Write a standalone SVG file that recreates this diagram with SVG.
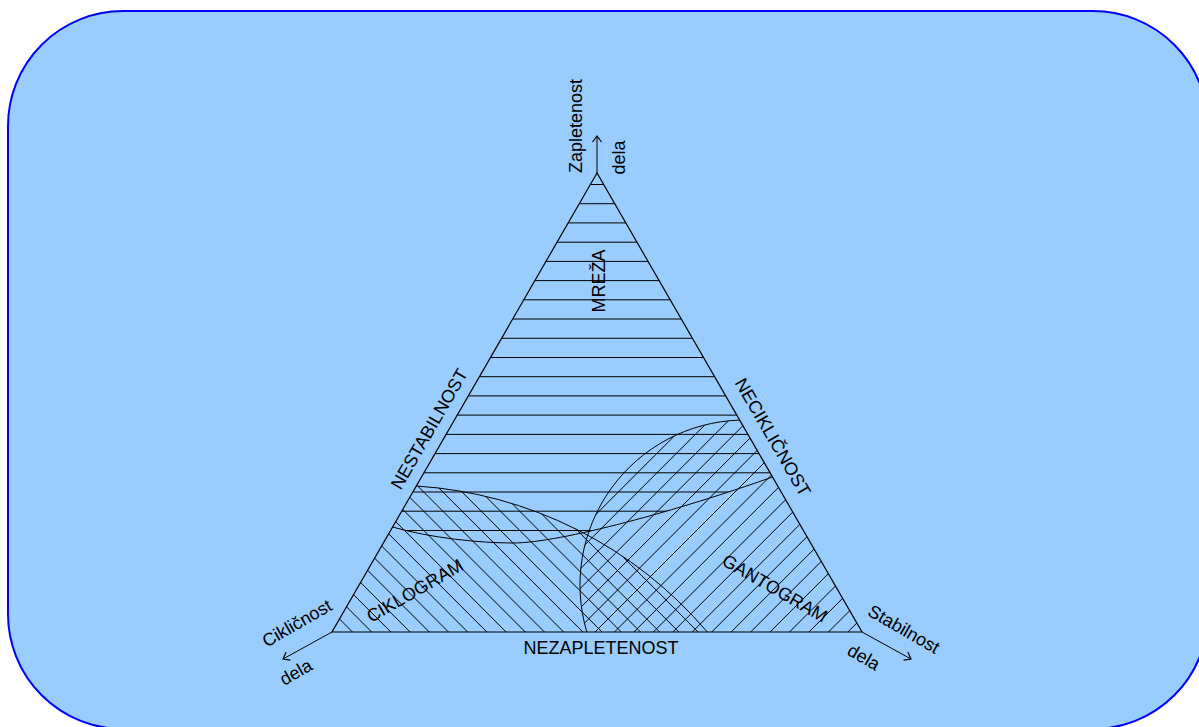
<svg xmlns="http://www.w3.org/2000/svg" width="1199" height="727" viewBox="0 0 1199 727">
<style>
.t{font-family:"Liberation Sans",Arial,sans-serif;font-size:18px;fill:#000}
.m{text-anchor:middle}
.ln{fill:none;stroke:#000;stroke-width:1}
.h{fill:none;stroke:#000;stroke-width:1}
</style>
<defs>
<marker id="ah" markerWidth="8" markerHeight="12" viewBox="-7 -6 8 12" refX="0" refY="0" orient="auto" markerUnits="userSpaceOnUse">
<path d="M-6,-4.5 L0,0 L-6,4.5" fill="none" stroke="#000" stroke-width="1.2"/>
</marker>
<clipPath id="cM"><path d="M597,173 L392.6,527 C430,538 480,543 513,543 C560,543 680,510 772.5,477 Z"/></clipPath>
<clipPath id="cC"><path d="M416.3,486 A417,417 0 0 1 707.3,632 L332,632 Z"/></clipPath>
<clipPath id="cG"><path d="M739.6,420.1 A165,165 0 0 0 586.8,632 L862,632 Z"/></clipPath>
</defs>
<rect id="background" x="8" y="11" width="1200" height="718" rx="115" ry="115" fill="#99CCFF" stroke="#0000FF" stroke-width="2"/>
<g id="mreza-hatch" clip-path="url(#cM)">
<path class="h" d="M300,184.5H900M300,203.7H900M300,222.9H900M300,242.2H900M300,261.4H900M300,280.6H900M300,299.8H900M300,319H900M300,338.3H900M300,357.5H900M300,376.7H900M300,395.9H900M300,415.1H900M300,434.4H900M300,453.6H900M300,472.8H900M300,492H900M300,511.2H900M300,530.5H900"/>
</g>
<g id="ciklogram-hatch" clip-path="url(#cC)">
<path class="h" d="M333.3,632l-260,-260M352.5,632l-260,-260M371.7,632l-260,-260M390.9,632l-260,-260M410.1,632l-260,-260M429.3,632l-260,-260M448.5,632l-260,-260M467.7,632l-260,-260M486.9,632l-260,-260M506.1,632l-260,-260M525.3,632l-260,-260M544.5,632l-260,-260M563.7,632l-260,-260M582.9,632l-260,-260M602.1,632l-260,-260M621.3,632l-260,-260M640.5,632l-260,-260M659.7,632l-260,-260M678.9,632l-260,-260M698.1,632l-260,-260M717.3,632l-260,-260"/>
</g>
<g id="gantogram-hatch" clip-path="url(#cG)">
<path class="h" d="M361.6,632l260,-260M381.05,632l260,-260M400.5,632l260,-260M419.95,632l260,-260M439.4,632l260,-260M458.85,632l260,-260M478.3,632l260,-260M497.75,632l260,-260M517.2,632l260,-260M536.65,632l260,-260M556.1,632l260,-260M575.55,632l260,-260M595,632l260,-260M614.45,632l260,-260M633.9,632l260,-260M653.35,632l260,-260M672.8,632l260,-260M692.25,632l260,-260M711.7,632l260,-260M731.15,632l260,-260M750.6,632l260,-260M770.05,632l260,-260M789.5,632l260,-260M808.95,632l260,-260M828.4,632l260,-260M847.85,632l260,-260M867.3,632l260,-260"/>
</g>
<g id="region-boundaries">
<path class="ln" d="M392.6,527 C430,538 480,543 513,543 C560,543 680,510 772.5,477"/>
<path class="ln" d="M416.3,486 A417,417 0 0 1 707.3,632"/>
<path class="ln" d="M739.6,420.1 A165,165 0 0 0 586.8,632"/>
</g>
<g id="triangle">
<polygon points="597,173 332,632 862,632" fill="none" stroke="#000" stroke-width="1.2"/>
</g>
<g id="connectors">
<line class="ln" x1="597" y1="173" x2="597" y2="136" marker-end="url(#ah)"/>
<line class="ln" x1="332" y1="632" x2="283" y2="659" marker-end="url(#ah)"/>
<line class="ln" x1="862" y1="632" x2="911" y2="659" marker-end="url(#ah)"/>
</g>
<g id="labels">
<text class="t m" transform="translate(582,126) rotate(-90)">Zapletenost</text>
<text class="t m" transform="translate(625,157.5) rotate(-90)">dela</text>
<text class="t m" transform="translate(300,628.6) rotate(-30)">Cikličnost</text>
<text class="t m" transform="translate(299,677.6) rotate(-30)">dela</text>
<text class="t m" transform="translate(900.8,634.6) rotate(30)">Stabilnost</text>
<text class="t m" transform="translate(860.8,662.6) rotate(30)">dela</text>
<text class="t m" transform="translate(434.6,432) rotate(-60)">NESTABILNOST</text>
<text class="t m" transform="translate(767.4,440.3) rotate(60)">NECIKLIČNOST</text>
<text class="t m" transform="translate(605,281) rotate(-90)">MREŽA</text>
<text class="t m" transform="translate(418,596) rotate(-30)">CIKLOGRAM</text>
<text class="t m" transform="translate(771.7,593.6) rotate(30)">GANTOGRAM</text>
<text class="t m" x="601" y="654">NEZAPLETENOST</text>
</g>
</svg>
